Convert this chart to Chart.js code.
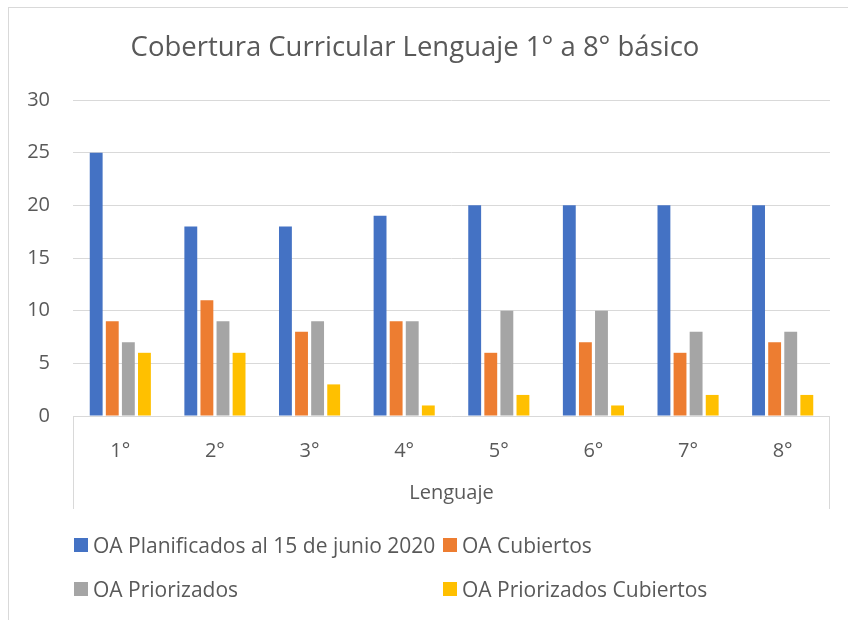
<!DOCTYPE html>
<html>
<head>
<meta charset="utf-8">
<script src="https://cdn.jsdelivr.net/npm/chart.js@4/dist/chart.umd.min.js"></script>
<style>
  html, body { margin: 0; padding: 0; background: #fff; }
  #wrap { width: 848px; height: 620px; }
</style>
</head>
<body>
<div id="wrap"><canvas id="chart" width="848" height="620"></canvas></div>
<script>
// datos
const cursos = ['1°', '2°', '3°', '4°', '5°', '6°', '7°', '8°'];
const planificados = [25, 18, 18, 19, 20, 20, 20, 20];
const cubiertos = [9, 11, 8, 9, 6, 7, 6, 7];
const priorizados = [7, 9, 9, 9, 10, 10, 8, 8];
const priorizadosCubiertos = [6, 6, 3, 1, 2, 1, 2, 2];

const seriesNames = [
    'OA Planificados al 15 de junio 2020',
    'OA Cubiertos',
    'OA Priorizados',
    'OA Priorizados Cubiertos'
];
const seriesColors = ['#4472C4', '#ED7D31', '#A5A5A5', '#FFC000'];

const textColor = '#595959';
const lineColor = '#D9D9D9';
const fontFamily = '"Open Sans", "Noto Sans", sans-serif';

// marco, caja del eje de categorías y leyenda en dos columnas
const excelDecor = {
    id: 'excelDecor',
    beforeDraw(chart) {
        const ctx = chart.ctx;
        ctx.save();
        ctx.fillStyle = '#ffffff';
        ctx.fillRect(0, 0, chart.width, chart.height);
        ctx.restore();
    },
    afterDraw(chart) {
        const ctx = chart.ctx;
        const x = chart.scales.x;
        ctx.save();
        ctx.strokeStyle = lineColor;
        ctx.lineWidth = 1;
        ctx.strokeRect(8.5, 7.5, 1000, 1000);

        ctx.beginPath();
        ctx.moveTo(Math.round(x.left) + 0.5, x.top);
        ctx.lineTo(Math.round(x.left) + 0.5, x.bottom);
        ctx.moveTo(Math.round(x.right) - 0.5, x.top);
        ctx.lineTo(Math.round(x.right) - 0.5, x.bottom);
        ctx.stroke();

        // leyenda
        const colX = [74, 443];
        const rowY = [553, 597];
        ctx.font = '21px ' + fontFamily;
        ctx.textBaseline = 'alphabetic';
        ctx.textAlign = 'left';
        chart.data.datasets.forEach((ds, i) => {
            const cx = colX[i % 2];
            const by = rowY[Math.floor(i / 2)];
            ctx.fillStyle = ds.backgroundColor;
            ctx.fillRect(cx, by - 15, 14, 14);
            ctx.fillStyle = textColor;
            ctx.fillText(ds.label, cx + 19, by);
        });
        ctx.restore();
    }
};

const datasets = [planificados, cubiertos, priorizados, priorizadosCubiertos].map((values, i) => ({
    label: seriesNames[i],
    data: values,
    backgroundColor: seriesColors[i],
    categoryPercentage: 0.68,
    barPercentage: 0.8
}));

new Chart(document.getElementById('chart'), {
    type: 'bar',
    data: { labels: cursos, datasets: datasets },
    plugins: [excelDecor],
    options: {
        responsive: false,
        animation: false,
        layout: { padding: { left: 0, right: 18, top: 0, bottom: 111 } },
        plugins: {
            legend: { display: false },
            tooltip: { enabled: false },
            title: {
                display: true,
                text: 'Cobertura Curricular Lenguaje 1° a 8° básico',
                color: textColor,
                font: { family: fontFamily, size: 27.5, weight: 'normal', lineHeight: 1.2 },
                padding: { top: 32, bottom: 35 }
            }
        },
        scales: {
            x: {
                grid: { display: false },
                border: { display: false },
                ticks: {
                    color: textColor,
                    padding: 15,
                    font: { family: fontFamily, size: 20, lineHeight: 1.2 }
                },
                title: {
                    display: true,
                    text: 'Lenguaje',
                    color: textColor,
                    font: { family: fontFamily, size: 20, lineHeight: 1.2 },
                    padding: { top: 0, bottom: 4 }
                },
                afterFit(scale) { scale.height = 93; }
            },
            y: {
                min: 0,
                max: 30,
                ticks: {
                    stepSize: 5,
                    color: textColor,
                    padding: 23,
                    font: { family: fontFamily, size: 20, lineHeight: 1.2 }
                },
                grid: { color: lineColor, lineWidth: 1, drawTicks: false },
                border: { display: false },
                afterFit(scale) { scale.width = 73; }
            }
        }
    }
});
</script>
</body>
</html>
